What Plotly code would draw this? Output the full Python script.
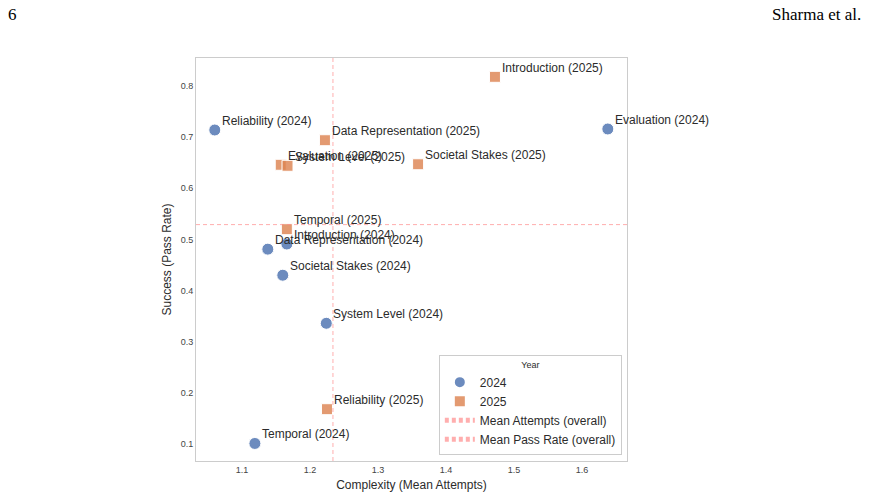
import plotly.graph_objects as go

# ---- data ----
labels_2024 = ["Reliability", "Evaluation", "Introduction", "Data Representation",
               "Societal Stakes", "System Level", "Temporal"]
attempts_2024 = [1.060, 1.638, 1.166, 1.138, 1.160, 1.224, 1.119]
pass_2024 = [0.714, 0.716, 0.491, 0.481, 0.430, 0.336, 0.101]

labels_2025 = ["Introduction", "Data Representation", "Evaluation", "System Level",
               "Societal Stakes", "Temporal", "Reliability"]
attempts_2025 = [1.472, 1.222, 1.157, 1.167, 1.359, 1.166, 1.225]
pass_2025 = [0.818, 0.694, 0.646, 0.644, 0.647, 0.520, 0.168]

x_range = [1.0324, 1.6662]
y_range = [0.0667, 0.8548]
x_ticks = [1.1, 1.2, 1.3, 1.4, 1.5, 1.6]
y_ticks = [0.1, 0.2, 0.3, 0.4, 0.5, 0.6, 0.7, 0.8]

all_x = attempts_2024 + attempts_2025
all_y = pass_2024 + pass_2025
mean_x = sum(all_x) / len(all_x)
mean_y = sum(all_y) / len(all_y)

W, H = 869, 498
L, R, T, B = 196, 242, 58, 37
PW, PH = W - L - R, H - T - B

def px(xp):
    return (xp - L) / PW

def py(yp):
    return (H - B - yp) / PH

FONT = "Liberation Sans, Arial, sans-serif"
BLUE = "rgba(76,114,176,0.82)"
ORANGE = "rgba(221,132,82,0.82)"
LINE = "rgba(255,140,140,0.7)"

fig = go.Figure()
fig.add_trace(go.Scatter(
    x=attempts_2024, y=pass_2024, mode="markers", name="2024",
    marker=dict(symbol="circle", size=12, color=BLUE,
                line=dict(color="white", width=1)),
))
fig.add_trace(go.Scatter(
    x=attempts_2025, y=pass_2025, mode="markers", name="2025",
    marker=dict(symbol="square", size=11, color=ORANGE,
                line=dict(color="white", width=1)),
))
fig.add_trace(go.Scatter(
    x=[mean_x, mean_x], y=y_range, mode="lines", name="Mean Attempts (overall)",
    line=dict(color=LINE, width=1, dash="4px,3px"),
))
fig.add_trace(go.Scatter(
    x=x_range, y=[mean_y, mean_y], mode="lines", name="Mean Pass Rate (overall)",
    line=dict(color=LINE, width=1, dash="4px,3px"),
))

annotations = []
for lab, xv, yv in zip(labels_2024, attempts_2024, pass_2024):
    annotations.append(dict(x=xv, y=yv, text=f"{lab} (2024)", showarrow=False,
                            xanchor="left", yanchor="bottom", xshift=5, yshift=0,
                            font=dict(family=FONT, size=12, color="#2b2b2b")))
for lab, xv, yv in zip(labels_2025, attempts_2025, pass_2025):
    annotations.append(dict(x=xv, y=yv, text=f"{lab} (2025)", showarrow=False,
                            xanchor="left", yanchor="bottom", xshift=5, yshift=0,
                            font=dict(family=FONT, size=12, color="#2b2b2b")))

annotations.append(dict(xref="paper", yref="paper", x=px(6), y=py(14), text="6",
                        showarrow=False, xanchor="left", yanchor="middle",
                        font=dict(family="Liberation Serif, serif", size=17, color="black")))
annotations.append(dict(xref="paper", yref="paper", x=px(863), y=py(14), text="Sharma et al.",
                        showarrow=False, xanchor="right", yanchor="middle",
                        font=dict(family="Liberation Serif, serif", size=17, color="black")))

axis_common = dict(showgrid=False, zeroline=False, showline=True, mirror=True,
                   linecolor="#cccccc", linewidth=1, ticks="", automargin=False,
                   tickfont=dict(family=FONT, size=9, color="#444444"))

fig.update_layout(
    width=W, height=H,
    margin=dict(l=L, r=R, t=T, b=B),
    paper_bgcolor="white", plot_bgcolor="white",
    font=dict(family=FONT, color="#2b2b2b"),
    xaxis=dict(range=x_range, tickvals=x_ticks, ticktext=[f"{v:.1f}" for v in x_ticks],
               title=dict(text="Complexity (Mean Attempts)", font=dict(size=12, family=FONT, color="#2b2b2b"), standoff=6),
               **axis_common),
    yaxis=dict(range=y_range, tickvals=y_ticks, ticktext=[f"{v:.1f}" for v in y_ticks],
               title=dict(text="Success (Pass Rate)", font=dict(size=12, family=FONT, color="#2b2b2b"), standoff=6),
               **axis_common),
    legend=dict(x=0.988, y=0.015, xanchor="right", yanchor="bottom",
                bordercolor="#cccccc", borderwidth=1, bgcolor="white",
                title=dict(text="Year", side="top center", font=dict(size=9, family=FONT)),
                font=dict(size=12, family=FONT, color="#2b2b2b"),
                tracegroupgap=0, itemsizing="constant"),
    annotations=annotations,
    showlegend=True,
)

fig.write_html("out.html")
